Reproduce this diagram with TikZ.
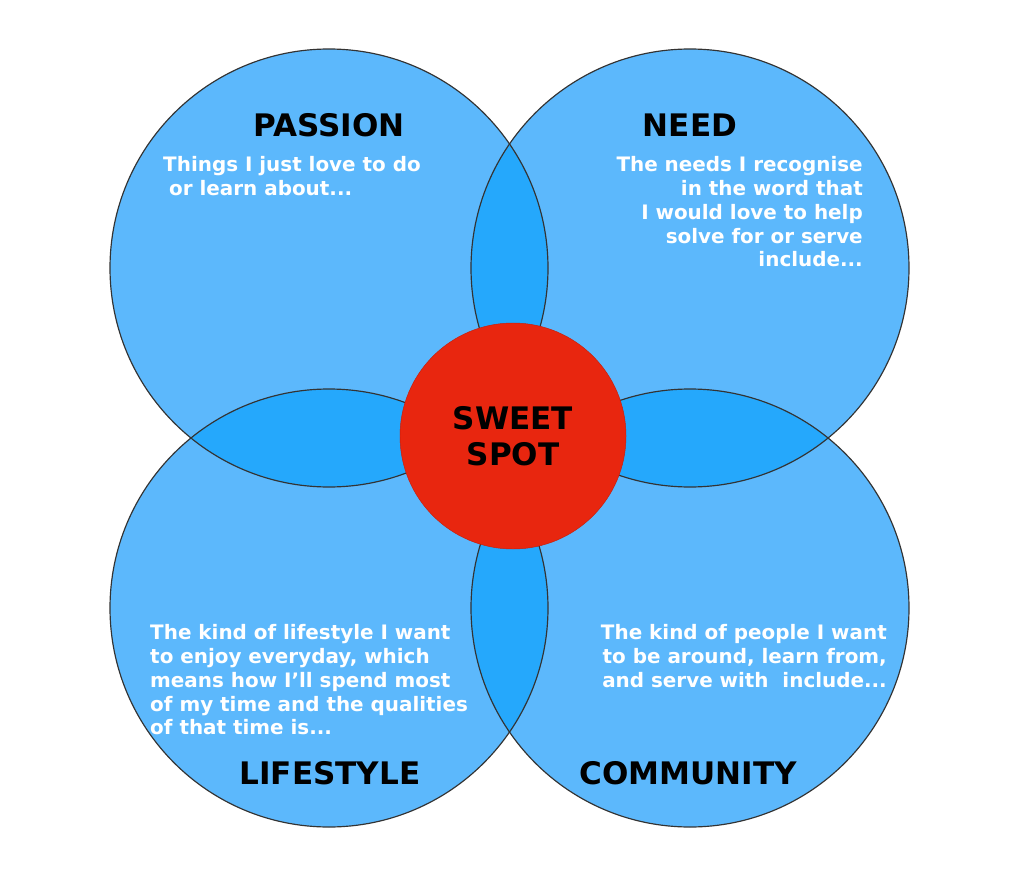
\documentclass[tikz,border=0pt]{standalone}
\usepackage{fontspec}
\setmainfont{DejaVu Sans}
\usepackage{tikz}
\usetikzlibrary{positioning}
\definecolor{ringblue}{RGB}{92,184,252}
\definecolor{lapblue}{RGB}{37,168,252}
\definecolor{spotred}{RGB}{232,38,15}

\begin{document}
\begin{tikzpicture}[x=0.03cm,y=0.03cm,
  title/.style={font=\bfseries\fontsize{26.5}{30.6}\selectfont,text=black},
  blurb/.style={font=\bfseries\fontsize{17}{20.4}\selectfont,text=white,inner sep=0pt}]
  \useasboundingbox (0,0) rectangle (1020,-877);
  \coordinate (pas) at (329,-268);
  \coordinate (nee) at (690,-268);
  \coordinate (lif) at (329,-608);
  \coordinate (com) at (690,-608);
  \foreach \c in {pas,nee,lif,com} { \fill[ringblue] (\c) circle (219); }
  % overlaps
  \begin{scope}
    \clip (pas) circle (219);
    \fill[lapblue] (nee) circle (219);
    \fill[lapblue] (lif) circle (219);
  \end{scope}
  \begin{scope}
    \clip (com) circle (219);
    \fill[lapblue] (nee) circle (219);
    \fill[lapblue] (lif) circle (219);
  \end{scope}
  \foreach \c in {pas,nee,lif,com} { \draw[black!80,line width=1pt] (\c) circle (219); }
  \node[circle,fill=spotred,draw=spotred!85!black,line width=0.4pt,minimum size=6.78cm,title,align=center] (spot) at (513,-436) {SWEET\\SPOT};
  \node[title] (passion) at (329,-125) {PASSION};
  \node[title] (need) at (690,-125) {NEED};
  \node[title] (lifestyle) at (330,-773) {LIFESTYLE};
  \node[title] (community) at (688,-773) {COMMUNITY};
  \node[blurb,align=left,anchor=north west] (passiontxt) at (163,-156) {Things I just love to do\\\hspace{0.3em}or learn about...};
  \node[blurb,align=right,anchor=north east] (needtxt) at (863,-156) {The needs I recognise\\in the word that\\I would love to help\\solve for or serve\\include...};
  \node[blurb,align=left,anchor=north west] (lifetxt) at (150,-624) {The kind of lifestyle I want\\to enjoy everyday, which\\means how I’ll spend most\\of my time and the qualities\\of that time is...};
  \node[blurb,align=right,anchor=north east] (comtxt) at (887,-624) {The kind of people I want\\to be around, learn from,\\and serve with\ \ include...};
\end{tikzpicture}
\end{document}
